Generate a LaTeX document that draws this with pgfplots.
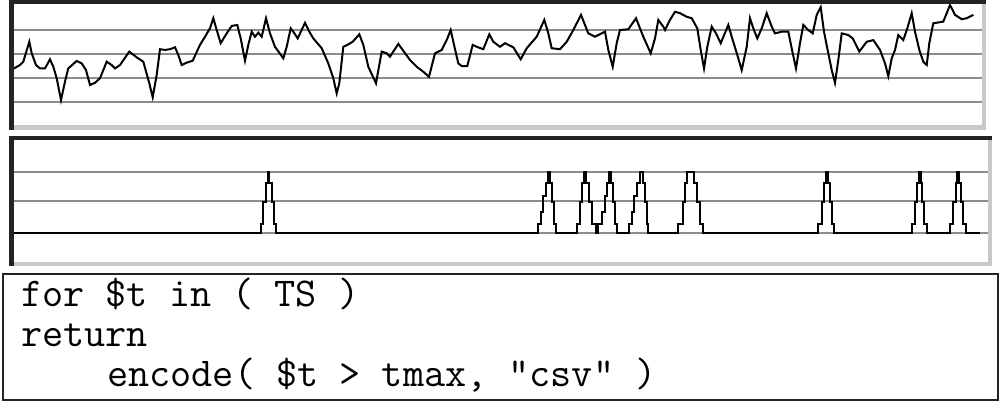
\documentclass[border=0pt]{standalone}
\usepackage{pgfplots}
\pgfplotsset{compat=1.18}
\usepackage{fontspec}
\definecolor{frameDark}{RGB}{35,35,35}
\definecolor{frameLight}{RGB}{200,200,200}
\definecolor{gridGray}{RGB}{140,140,140}

\pgfplotsset{
  panel/.style={
    scale only axis,
    axis line style={draw=none},
    xtick=\empty, yticklabels={},
    major tick length=0pt,
    ymajorgrids,
    grid style={gridGray, line width=0.8pt},
    clip=false,
  },
}
\newcommand{\panelframe}{%
  \draw[frameLight, line width=2.2pt] (rel axis cs:0,0) -- (rel axis cs:1,0) -- (rel axis cs:1,1);
  \draw[frameDark, line width=2.2pt, line cap=rect] (rel axis cs:0,0) -- (rel axis cs:0,1) -- (rel axis cs:1,1);
}

\begin{document}
\begin{tikzpicture}
\path[use as bounding box] (0,0) rectangle (500pt,201pt);
\fill[white] (0,0) rectangle (500pt,201pt);

% series TS
\begin{axis}[panel, at={(5.75pt,137.25pt)}, anchor=south west,
  width=486.25pt, height=62.75pt,
  xmin=11.5, xmax=984, ymin=-0.0625, ymax=5.167,
  ytick={1,2,3,4}]
\addplot[black, line width=1pt, line join=miter] table {
x y
14 2.40
20 2.54
23.3 2.68
29.3 3.51
31.7 3.03
36 2.54
40 2.40
45 2.40
50 2.78
53.3 2.47
56.7 1.99
61 1.08
65 1.85
68.3 2.40
76.7 2.71
81.7 2.61
86 2.33
90 1.71
95 1.80
100 1.99
106.7 2.68
111.7 2.54
115 2.40
120 2.54
129.3 3.10
136.7 2.86
143.3 2.68
149.3 1.78
152.7 1.20
156.7 2.13
160 3.20
165 3.17
170 3.20
175 3.28
178.3 2.96
181.7 2.54
186.7 2.64
192.7 2.72
200 3.38
205 3.72
210 4.07
213.3 4.49
216.7 4.00
220.7 3.45
226.7 3.86
231.7 4.17
237.3 4.21
240.7 3.65
245 2.72
248.3 3.38
251.7 3.93
255 3.72
258.3 3.89
261.7 3.72
266 4.49
270 3.86
275 3.30
283.3 2.82
286.7 3.30
290.7 4.07
293.3 3.93
297.7 3.65
305 4.30
309.3 3.93
313.3 3.65
321.7 3.24
328.3 2.61
333.3 1.99
336.7 1.36
339.3 1.78
343.3 3.30
347.3 3.38
352.7 3.51
359.3 3.82
363.3 3.38
368.3 2.47
376 1.78
381.7 3.10
386.7 3.03
390 2.89
398.3 3.42
410 2.75
416.7 2.47
423.3 2.26
429 2.05
435 3.03
441.7 3.17
446.7 3.58
450.7 4.00
453.3 3.51
458.3 2.61
461.7 2.50
467.3 2.50
472.7 3.38
476.7 3.30
483.3 3.20
489.3 3.82
493.3 3.51
500 3.30
505 3.45
513.3 3.28
520.7 2.78
526.7 3.24
536.7 3.72
544.3 4.42
548.3 3.86
551.7 3.24
560 3.20
566.7 3.51
573.3 4.00
581 4.63
588.3 3.86
595 3.72
601.7 3.86
605 3.93
608.3 3.17
612.7 2.47
616.7 3.45
620 4.00
628.3 4.03
636 4.49
643.3 3.72
650.7 3.03
655 3.65
658.3 4.42
663.3 4.14
665 4.00
670 4.42
675 4.76
680 4.70
686.7 4.55
691.7 4.49
697.3 4.07
700.7 3.17
704 2.40
707.3 3.30
711.7 4.14
716 3.86
720.7 3.45
728.3 4.21
731.7 3.72
737.3 2.96
741.7 2.33
746.7 3.30
750 4.49
753.3 4.07
757.3 3.65
761.7 4.07
766.7 4.70
771.7 4.14
775 3.86
781.7 3.93
788.3 3.93
792.7 3.03
796 2.40
800 3.45
803.3 4.21
808.3 4.00
812.7 3.86
816.7 4.63
820.7 4.95
824 3.93
828.3 3.03
831.7 2.33
835 1.80
838.3 2.75
841.7 3.86
848.3 3.79
852.7 3.65
859.3 3.10
866.7 3.51
873.3 3.58
880 3.17
885 2.61
888.3 2.08
891.7 2.82
895 3.17
898.3 3.79
903.3 3.58
907.3 4.07
911.7 4.70
915 3.93
919.3 3.17
923.3 2.68
926.7 2.54
929.3 3.45
933.3 4.28
943.3 4.35
950 5.04
955 4.63
961.7 4.45
966.7 4.49
973.3 4.63
};
\panelframe
\end{axis}

% indicator t > tmax
\begin{axis}[panel, at={(5.75pt,69pt)}, anchor=south west,
  width=489.25pt, height=62.85pt,
  xmin=11.5, xmax=990, ymin=-0.508, ymax=1.552,
  ytick={0,0.52,1}]
\addplot[black, line width=1pt, const plot] table {
x y
14 0
260.7 0.15
263.3 0.5
265.7 0.82
267.7 1
269.3 0.82
271.7 0.5
274 0.15
276 0
538.3 0.15
540.7 0.35
543.3 0.6
546 0.82
548.3 1
550 0.82
552.3 0.5
554 0.15
556 0
576.7 0.15
580 0.5
581.7 0.82
584 1
586 0.82
589 0.5
592 0.15
595.5 0
598.3 0.15
601.7 0.35
605 0.6
607.3 0.82
609 1
610.7 0.82
612.7 0.5
615 0.15
617.3 0
629.3 0.15
631.7 0.35
634 0.6
636.7 0.82
640 1
642.7 0.82
645 0.5
646.7 0.15
648.3 0
678.3 0.15
682.7 0.5
685 0.82
687.3 1
694 0.82
696.7 0.5
700 0.15
702.7 0
818.3 0.15
821.7 0.5
824.3 0.82
826 1
827.7 0.82
830 0.5
832.3 0.15
834.3 0
911.7 0.15
915 0.5
917.3 0.82
919 1
920.7 0.82
922.3 0.5
924.3 0.15
926.7 0
950 0.15
953.3 0.5
955.7 0.82
957.3 1
959 0.82
961 0.5
963.3 0.15
965.7 0
980 0
};
\panelframe
\end{axis}

% query box
\draw[frameDark, line width=1pt] (1.5pt,1pt) rectangle (499pt,64pt);
\begin{scope}[every node/.style={anchor=base west, inner sep=0pt,
    font=\ttfamily\fontsize{20.5}{22}\selectfont}]
\node at (10.5pt,48pt) {for \$t in ( TS )};
\node at (10.5pt,27.75pt) {return};
\node at (53.5pt,8pt) {encode( \$t > tmax, "csv" )};
\end{scope}
\end{tikzpicture}
\end{document}
